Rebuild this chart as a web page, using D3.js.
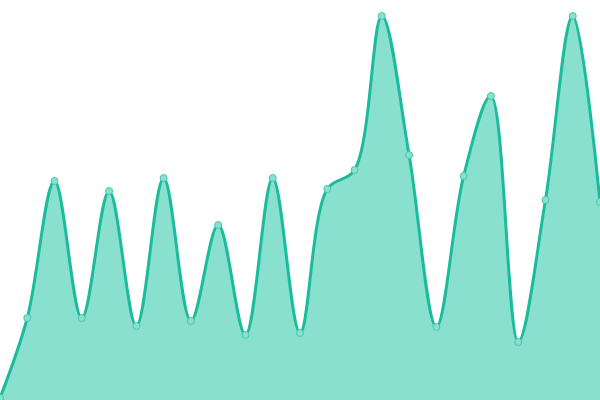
<!DOCTYPE html>
<html><head><meta charset="utf-8">
<script src="https://cdn.jsdelivr.net/npm/d3@7"></script>
<style>body{margin:0;background:#fff}svg{display:block}</style>
</head><body>
<svg id="c" width="600" height="400"></svg>
<script>
const labels = d3.range(23).map(i => "P" + (i + 1));
const values = [2, 82, 219, 82, 209, 74, 222, 79, 175, 65, 222, 67, 211, 230, 384, 245, 73, 224, 304, 58, 200, 384, 198];
const W = 600, H = 400;
const svg = d3.select("#c");
const x = d3.scalePoint().domain(labels).range([0, W]);
const y = d3.scaleLinear().domain([0, 400]).range([H, 0]);
const data = labels.map((l, i) => ({l, v: values[i]}));
const curve = d3.curveCatmullRom.alpha(0.5);
svg.append("path").datum(data)
  .attr("d", d3.area().x(d => x(d.l)).y0(H).y1(d => y(d.v)).curve(curve))
  .attr("fill", "#8ae0cf");
svg.append("path").datum(data)
  .attr("d", d3.line().x(d => x(d.l)).y(d => y(d.v)).curve(curve))
  .attr("fill", "none").attr("stroke", "#1abc9c").attr("stroke-width", 3);
svg.selectAll("circle").data(data).join("circle")
  .attr("cx", d => x(d.l)).attr("cy", d => y(d.v)).attr("r", 3.5)
  .attr("fill", "#8ae0cf").attr("stroke", "#45c9ae").attr("stroke-width", 1);
</script>
</body></html>
